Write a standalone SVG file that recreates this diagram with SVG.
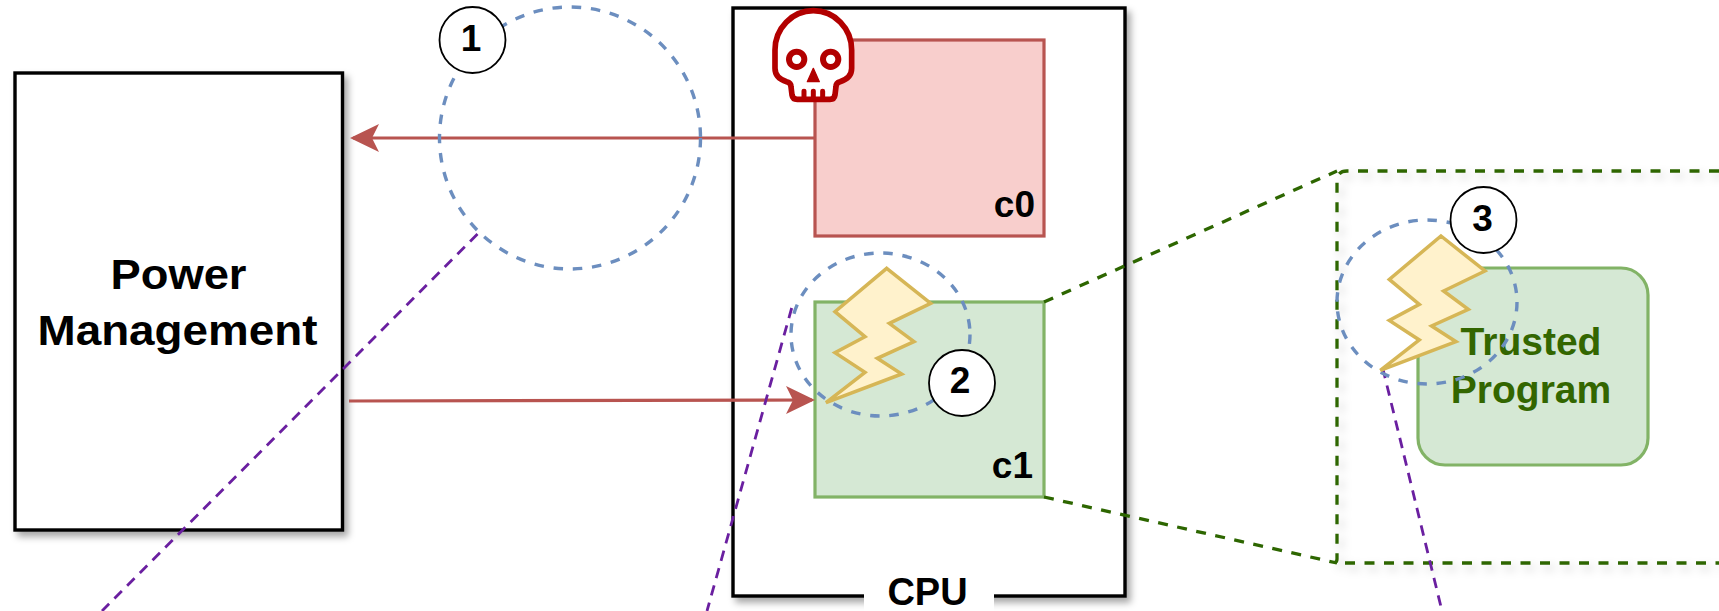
<svg xmlns="http://www.w3.org/2000/svg" width="1719" height="611" viewBox="0 0 1719 611">
<style>
text{font-family:"Liberation Sans",Arial,sans-serif;font-weight:bold;fill:#000}
.box{fill:#fff;stroke:#000;stroke-width:3.400}
.green{fill:#d5e8d4;stroke:#82b366;stroke-width:3.200}
.red{fill:#f8cecc;stroke:#b85450;stroke-width:3.200}
.ring{fill:none;stroke:#6c8ebf;stroke-width:3.400;stroke-dasharray:9.500 9.800}
.badge{fill:#fff;stroke:#000;stroke-width:1.800}
.bolt{fill:#fff2cc;stroke:#d6b656;stroke-width:3.500}
.zoomline{fill:none;stroke:#2d6600;stroke-width:3.300;stroke-dasharray:10 9.500}
.link{fill:none;stroke:#6a1fa0;stroke-width:2.800;stroke-dasharray:10.500 7.500}
.arrow{fill:none;stroke:#b85450;stroke-width:3.200}
.num{font-size:37px;text-anchor:middle}
.lbl{font-size:37px;text-anchor:end}
.tp{font-size:39px;text-anchor:middle;fill:#336600}
</style>
<defs>
<filter id="sh" x="-10%" y="-10%" width="125%" height="125%"><feDropShadow dx="4" dy="5" stdDeviation="3.500" flood-color="#000" flood-opacity="0.350"/></filter>
<filter id="shl" x="-10%" y="-10%" width="125%" height="125%"><feDropShadow dx="4" dy="5" stdDeviation="5" flood-color="#000" flood-opacity="0.200"/></filter>
<marker id="ah" markerUnits="userSpaceOnUse" markerWidth="30" markerHeight="30" viewBox="0 0 30 30" refX="26" refY="15" orient="auto"><path d="M29 15L0 1L7 15L0 29Z" fill="#b85450"/></marker>
<polygon id="bolt" points="886.7,268.3 930.7,303.3 889.3,323.3 914,341.7 877.3,358.3 901.7,374 826,402.7 865,372.3 835,352.7 865,336.7 835,311.7"/>
</defs>

<g id="power-management">
<rect class="box" x="15" y="73" width="327.500" height="457" filter="url(#sh)"/>
<text x="178.500" y="289" font-size="42" text-anchor="middle" textLength="136" lengthAdjust="spacingAndGlyphs">Power</text>
<text x="177.500" y="345" font-size="42" text-anchor="middle" textLength="280" lengthAdjust="spacingAndGlyphs">Management</text>
</g>

<g id="cpu">
<rect class="box" x="733" y="8" width="392" height="588" filter="url(#sh)"/>
<rect x="864" y="580" width="130" height="31" fill="#fff"/>
<text x="927.500" y="605" font-size="38" text-anchor="middle">CPU</text>
</g>

<g id="c0">
<rect class="red" x="815" y="40" width="229" height="196"/>
<text class="lbl" x="1035" y="217">c0</text>
</g>

<g id="c1">
<rect class="green" x="815" y="302" width="229" height="195"/>
<text class="lbl" x="1033" y="478">c1</text>
</g>

<g id="skull" transform="translate(720 0) scale(.3333)">
<path d="M165 150A115 118 0 0 1 395 150L395 205Q395 235 360 245Q348 248 348 260L345 285Q343 298 330 298L232 298Q218 298 216 285L213 260Q213 248 200 245Q165 235 165 205Z" fill="#fff" stroke="#b20000" stroke-width="17" stroke-linejoin="round"/>
<circle cx="230" cy="178" r="23" fill="#fff" stroke="#b20000" stroke-width="18"/>
<circle cx="332" cy="178" r="23" fill="#fff" stroke="#b20000" stroke-width="18"/>
<path d="M280 205L298 245L262 245Z" fill="#b20000" stroke="#b20000" stroke-width="4" stroke-linejoin="round"/>
<path d="M252 274V296M280 274V296M308 274V296" stroke="#b20000" stroke-width="15" stroke-linecap="round" fill="none"/>
</g>

<g id="zoom-region">
<path class="zoomline" d="M1719 171H1347Q1337 171 1337 181V559Q1337 563 1333 563M1345 563H1719" filter="url(#shl)"/>
</g>

<g id="trusted-program">
<rect class="green" x="1418" y="268" width="230" height="197" rx="27" ry="27"/>
<text class="tp" x="1531" y="355">Trusted</text>
<text class="tp" x="1531" y="403">Program</text>
</g>

<g id="connectors">
<path class="zoomline" d="M1044 302L1337 171"/>
<path class="zoomline" d="M1044 497L1337 563"/>
<path class="arrow" d="M815 138H353" marker-end="url(#ah)"/>
<path class="arrow" d="M349 401L812 400" marker-end="url(#ah)"/>
<path class="link" d="M477.500 234L102 611"/>
<path class="link" d="M791.700 308L707 611"/>
<path class="link" d="M1382.700 368L1442 611"/>
</g>

<g id="region-1">
<ellipse class="ring" cx="570" cy="138" rx="130.500" ry="131"/>
<circle class="badge" cx="472.500" cy="40" r="33"/>
<text class="num" x="471" y="51">1</text>
</g>

<g id="region-2">
<ellipse class="ring" cx="880.500" cy="334.500" rx="89.500" ry="81.500"/>
<use href="#bolt" class="bolt"/>
<circle class="badge" cx="962" cy="383" r="33"/>
<text class="num" x="960" y="393">2</text>
</g>

<g id="region-3">
<ellipse class="ring" cx="1427" cy="302" rx="90" ry="82"/>
<use href="#bolt" class="bolt" transform="translate(554.300 -32.300)"/>
<circle class="badge" cx="1483.500" cy="220" r="33"/>
<text class="num" x="1482.500" y="231">3</text>
</g>
</svg>
